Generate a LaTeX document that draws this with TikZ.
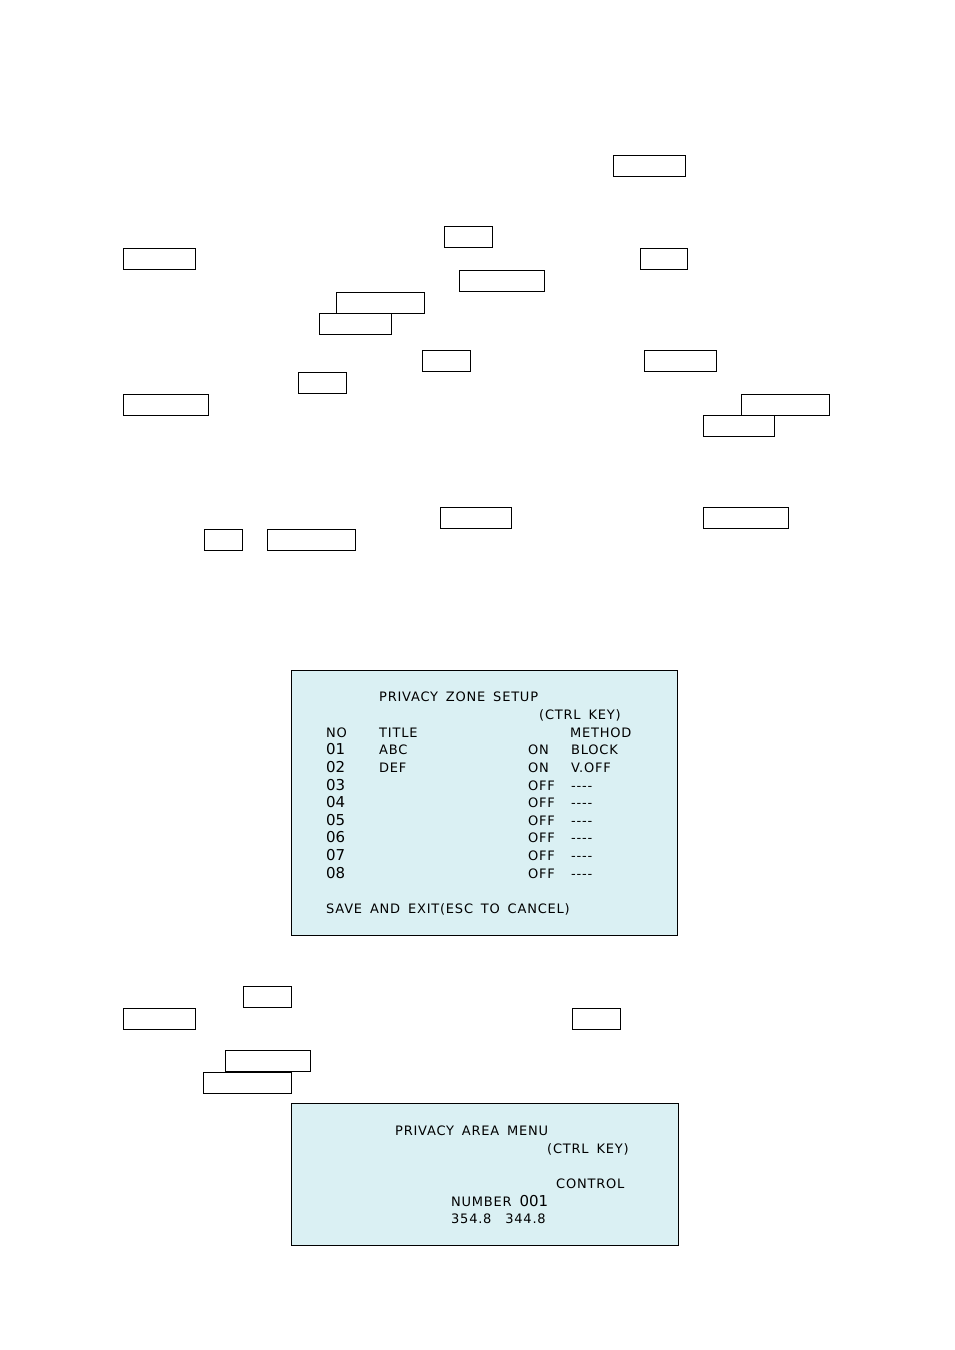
\documentclass[tikz,border=0pt]{standalone}
\usepackage{fontspec}
\newfontfamily\scr[LetterSpace=6,WordSpace=1.6]{DejaVu Sans}
\definecolor{scrbg}{RGB}{218,240,243}
\begin{document}
\begin{tikzpicture}[x=1pt,y=-1pt,
  keybox/.style={draw=black,line width=0.9pt},
  panel/.style={draw=black,line width=0.7pt,fill=scrbg},
  t/.style={anchor=base west,inner sep=0pt,font=\scr\fontsize{13}{15}\selectfont}]
\useasboundingbox (0,0) rectangle (954,1350);
\foreach \a/\b/\c/\d in {613/155/685/176,444/226/492/247,123/248/195/269,640/248/687/269,459/270/544/291,336/292/424/313,319/313/391/334,422/350/470/371,644/350/716/371,298/372/346/393,123/394/208/415,741/394/829/415,703/415/774/436,440/507/511/528,703/507/788/528,204/529/242/550,267/529/355/550,243/986/291/1007,123/1008/195/1029,572/1008/620/1029,225/1050/310/1071,203/1072/291/1093}
  \draw[keybox] (\a,\b) rectangle (\c,\d);
\draw[panel] (291,670) rectangle (677,935);
\draw[panel] (291,1103) rectangle (678,1245);
\node[t] (p1) at (379,701) {PRIVACY ZONE SETUP};
\node[t] (p2) at (539,719) {(CTRL KEY)};
\node[t] (p3) at (326,737) {NO};
\node[t] (p4) at (379,737) {TITLE};
\node[t] (p5) at (570,737) {METHOD};
\foreach \n/\y/\ti/\st/\me in {01/754/ABC/ON/BLOCK,02/772/DEF/ON/V.OFF,03/790//OFF/----,04/807//OFF/----,05/825//OFF/----,06/842//OFF/----,07/860//OFF/----,08/878//OFF/----}{
  \node[t,font=\fontspec{DejaVu Sans}\fontsize{15}{17}\selectfont] (n\n) at (326,\y) {\n};
  \node[t] (ti\n) at (379,\y) {\ti};
  \node[t] (st\n) at (528,\y) {\st};
  \node[t] (me\n) at (571,\y) {\me};
}
\node[t] (sv) at (326,913) {SAVE AND EXIT(ESC TO CANCEL)};
\node[t] (q1) at (395,1135) {PRIVACY AREA MENU};
\node[t] (q2) at (547,1153) {(CTRL KEY)};
\node[t] (q3) at (556,1188) {CONTROL};
\node[t] (q4) at (451,1206) {NUMBER \fontspec{DejaVu Sans}\fontsize{15}{17}\selectfont 001};
\node[t] (q5) at (451,1223) {354.8\hspace{6pt} 344.8};
\end{tikzpicture}
\end{document}
